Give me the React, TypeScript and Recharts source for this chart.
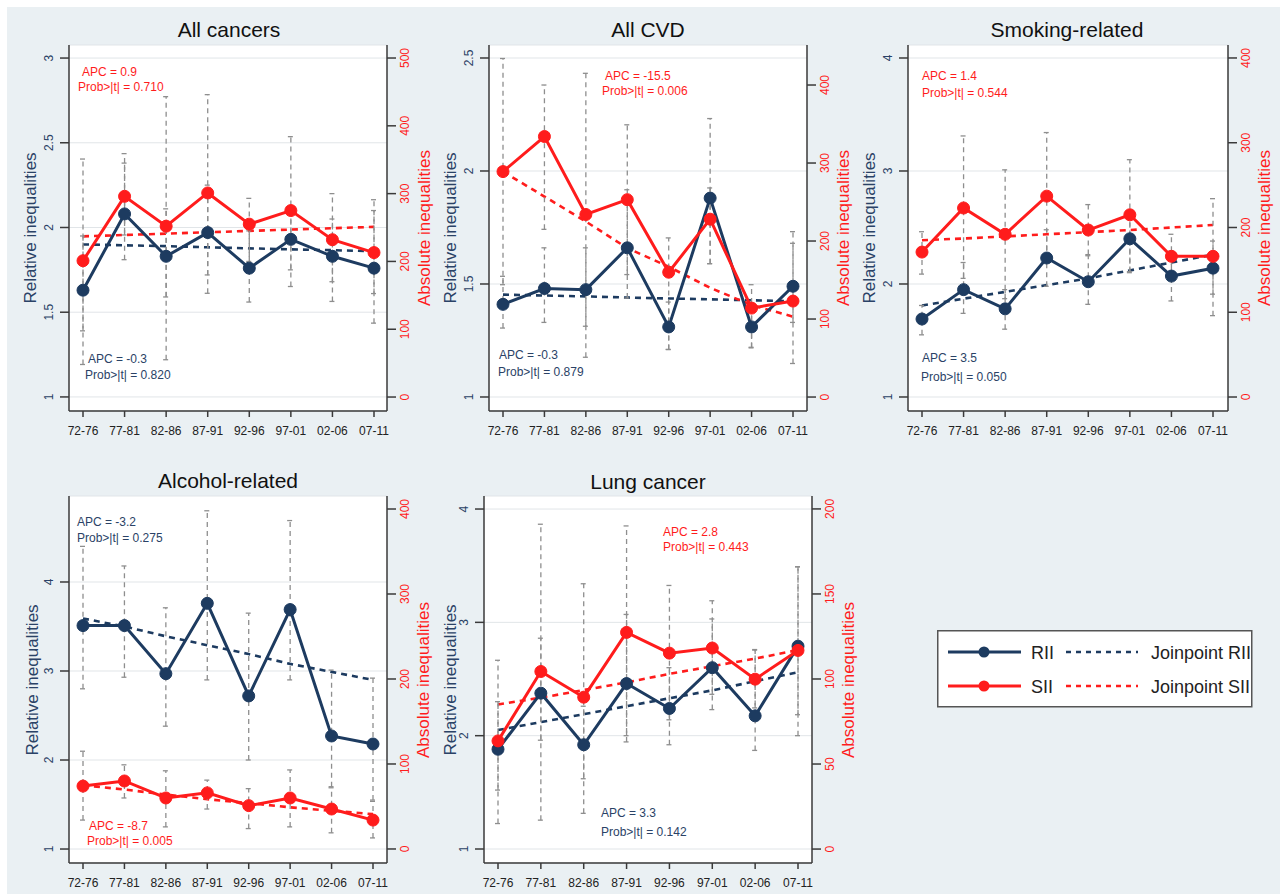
import React from 'react';
import { LineChart, Line, XAxis, YAxis, CartesianGrid, ErrorBar } from 'recharts';

const periods = ['72-76', '77-81', '82-86', '87-91', '92-96', '97-01', '02-06', '07-11'];

// All cancers
const cancerRii = [1.63, 2.08, 1.83, 1.97, 1.76, 1.93, 1.83, 1.76];
const cancerSii = [201, 296, 252, 301, 255, 275, 232, 213];
const cancerRiiJp = [1.9, 1.895, 1.89, 1.883, 1.877, 1.871, 1.866, 1.86];
const cancerSiiJp = [237, 239, 241, 243, 245, 247, 249, 251];
const cancerRiiCi = [[1.39, 1.95], [1.81, 2.38], [1.59, 2.11], [1.72, 2.25], [1.56, 1.98], [1.75, 2.12], [1.68, 2.05], [1.61, 2.1]];
const cancerSiiCi = [[48, 351], [239, 359], [55, 443], [153, 446], [200, 293], [163, 384], [141, 300], [109, 291]];

// All CVD
const cvdRii = [1.41, 1.48, 1.475, 1.66, 1.31, 1.88, 1.31, 1.49];
const cvdSii = [289, 334, 234, 253, 160, 228, 114, 123];
const cvdRiiJp = [1.453, 1.449, 1.445, 1.44, 1.436, 1.432, 1.428, 1.424];
const cvdSiiJp = [289, 257, 225, 191, 167, 140, 118, 103];
const cvdRiiCi = [[1.305, 1.534], [1.33, 1.66], [1.313, 1.66], [1.438, 1.917], [1.21, 1.42], [1.59, 1.925], [1.22, 1.4], [1.33, 1.68]];
const cvdSiiCi = [[144, 434], [215, 400], [51, 415], [157, 349], [61, 204], [171, 357], [63, 144], [43, 212]];

// Smoking-related
const smokeRii = [1.69, 1.95, 1.78, 2.23, 2.02, 2.4, 2.07, 2.14];
const smokeSii = [171, 223, 192, 237, 197, 215, 166, 166];
const smokeRiiJp = [1.81, 1.87, 1.93, 1.99, 2.05, 2.12, 2.19, 2.26];
const smokeSiiJp = [185, 187, 189.5, 192, 194.5, 197, 200, 203];
const smokeRiiCi = [[1.55, 1.81], [1.74, 2.19], [1.6, 1.95], [1.98, 2.48], [1.82, 2.25], [2.1, 2.63], [1.85, 2.29], [1.91, 2.38]];
const smokeSiiCi = [[145, 195], [140, 308], [116, 268], [162, 312], [168, 227], [148, 280], [140, 192], [96, 234]];

// Alcohol-related
const alcRii = [3.51, 3.51, 2.97, 3.76, 2.72, 3.69, 2.27, 2.18];
const alcSii = [74, 80, 60, 66, 51, 60, 47, 34];
const alcRiiJp = [3.59, 3.5, 3.39, 3.29, 3.19, 3.08, 2.99, 2.9];
const alcSiiJp = [75, 70, 64, 58.5, 54, 49, 45, 41];
const alcRiiCi = [[2.8, 4.4], [2.93, 4.18], [2.38, 3.71], [2.9, 4.8], [2.0, 3.65], [2.9, 4.69], [1.7, 3.01], [1.55, 2.92]];
const alcSiiCi = [[34, 115], [60, 99], [26, 92], [47, 81], [24, 71], [26, 93], [19, 72], [13, 56]];

// Lung cancer
const lungRii = [1.88, 2.375, 1.92, 2.46, 2.24, 2.6, 2.175, 2.79];
const lungSii = [63.6, 104.4, 89.3, 127.4, 115.2, 118.2, 99.9, 116.8];
const lungRiiJp = [2.05, 2.12, 2.19, 2.26, 2.33, 2.4, 2.48, 2.56];
const lungSiiJp = [85, 89, 93.5, 98, 103, 107.5, 112, 117];
const lungRiiCi = [[1.52, 2.3], [1.96, 2.86], [1.62, 2.26], [2.0, 3.07], [1.92, 2.6], [2.23, 3.03], [1.87, 2.76], [2.0, 3.49]];
const lungSiiCi = [[15, 111], [17, 191], [21, 156], [63, 190], [76, 155], [91, 146], [83, 117], [79, 166]];

const NAVY = '#1d3b60';
const NAVY_TEXT = '#2a4266';
const RED = '#ff1c1c';
const CI_GREY = '#8e8e8e';
const AXIS = '#3a3a3a';
const FONT = '"Liberation Sans", Arial, Helvetica, sans-serif';

function buildRows(rii: number[], sii: number[], riiJp: number[], siiJp: number[], riiCi: number[][], siiCi: number[][]) {
  return periods.map((p, i) => ({
    period: p,
    rii: rii[i],
    sii: sii[i],
    riiJp: riiJp[i],
    siiJp: siiJp[i],
    riiErr: [rii[i] - riiCi[i][0], riiCi[i][1] - rii[i]],
    siiErr: [sii[i] - siiCi[i][0], siiCi[i][1] - sii[i]],
  }));
}

const panels = [
  {
    title: 'All cancers', titleAt: [229, 29],
    box: [0, 0, 430, 450], plot: [69, 45, 387, 411], pad: [14, 13],
    leftDomain: [0.917, 3.077], leftTicks: [1, 1.5, 2, 2.5, 3],
    rightDomain: [-20.6, 519.2], rightTicks: [0, 100, 200, 300, 400, 500],
    rows: buildRows(cancerRii, cancerSii, cancerRiiJp, cancerSiiJp, cancerRiiCi, cancerSiiCi),
    labels: [30, 424, 228],
    siiText: [[82, 72, 'APC = 0.9'], [78, 87, 'Prob>|t| = 0.710']],
    riiText: [[88, 359, 'APC = -0.3'], [85, 375, 'Prob>|t| = 0.820']],
  },
  {
    title: 'All CVD', titleAt: [648, 29],
    box: [420, 0, 430, 450], plot: [489, 45, 807, 411], pad: [14, 14],
    leftDomain: [0.938, 2.5575], leftTicks: [1, 1.5, 2, 2.5],
    rightDomain: [-17.9, 451.3], rightTicks: [0, 100, 200, 300, 400],
    rows: buildRows(cvdRii, cvdSii, cvdRiiJp, cvdSiiJp, cvdRiiCi, cvdSiiCi),
    labels: [450, 843, 228],
    siiText: [[605, 76, 'APC = -15.5'], [602, 91, 'Prob>|t| = 0.006']],
    riiText: [[499, 355, 'APC = -0.3'], [498, 372, 'Prob>|t| = 0.879']],
  },
  {
    title: 'Smoking-related', titleAt: [1067, 29],
    box: [850, 0, 430, 450], plot: [908, 45, 1228, 411], pad: [14, 15],
    leftDomain: [0.876, 4.115], leftTicks: [1, 2, 3, 4],
    rightDomain: [-16.5, 415.3], rightTicks: [0, 100, 200, 300, 400],
    rows: buildRows(smokeRii, smokeSii, smokeRiiJp, smokeSiiJp, smokeRiiCi, smokeSiiCi),
    labels: [869, 1264, 228],
    siiText: [[922, 76, 'APC = 1.4'], [922, 93, 'Prob>|t| = 0.544']],
    riiText: [[922, 358, 'APC = 3.5'], [921, 377, 'Prob>|t| = 0.050']],
  },
  {
    title: 'Alcohol-related', titleAt: [228, 480],
    box: [0, 450, 430, 444], plot: [69, 496, 387, 863], pad: [14, 14],
    leftDomain: [0.843, 4.966], leftTicks: [1, 2, 3, 4],
    rightDomain: [-16.5, 415.3], rightTicks: [0, 100, 200, 300, 400],
    rows: buildRows(alcRii, alcSii, alcRiiJp, alcSiiJp, alcRiiCi, alcSiiCi),
    labels: [32, 423, 680],
    siiText: [[89, 826, 'APC = -8.7'], [87, 841, 'Prob>|t| = 0.005']],
    riiText: [[77, 522, 'APC = -3.2'], [77, 538, 'Prob>|t| = 0.275']],
  },
  {
    title: 'Lung cancer', titleAt: [648, 481],
    box: [430, 450, 430, 444], plot: [484, 496, 812, 863], pad: [14, 14],
    leftDomain: [0.8765, 4.115], leftTicks: [1, 2, 3, 4],
    rightDomain: [-8.2, 207.6], rightTicks: [0, 50, 100, 150, 200],
    rows: buildRows(lungRii, lungSii, lungRiiJp, lungSiiJp, lungRiiCi, lungSiiCi),
    labels: [450, 848, 680],
    siiText: [[663, 532, 'APC = 2.8'], [663, 547, 'Prob>|t| = 0.443']],
    riiText: [[601, 813, 'APC = 3.3'], [601, 832, 'Prob>|t| = 0.142']],
  },
];

const rotatedTick = (color: string, shift: number) => (props: any) => {
  const { x, y, payload } = props;
  const bx = x + shift;
  return (
    <text x={bx} y={y} transform={`rotate(-90 ${bx} ${y})`} textAnchor="middle" fill={color} fontSize={12} fontFamily={FONT}>
      {payload.value}
    </text>
  );
};

const XTick = (props: any) => (
  <text x={props.x} y={props.y + 17.5} textAnchor="middle" fill="#222" fontSize={12} fontFamily={FONT}>
    {props.payload.value}
  </text>
);

const axisLine = { stroke: AXIS, strokeWidth: 1.5 };

function Panel({ p }: { p: any }) {
  const [bx, by, bw, bh] = p.box;
  const [pl, pt, pr, pb] = p.plot;
  return (
    <div style={{ position: 'absolute', left: bx, top: by, width: bw, height: bh }}>
      <LineChart width={bw} height={bh} data={p.rows} margin={{ top: pt - by, right: 0, bottom: 0, left: 0 }}>
        <CartesianGrid yAxisId="left" vertical={false} stroke="#e1e5e8" fill="#ffffff" />
        <XAxis
          dataKey="period"
          scale="point"
          padding={{ left: p.pad[0], right: p.pad[1] }}
          height={by + bh - pb}
          tickSize={6}
          tickMargin={0}
          interval={0}
          axisLine={axisLine}
          tickLine={axisLine}
          tick={XTick}
        />
        <YAxis
          yAxisId="left"
          orientation="left"
          type="number"
          width={pl - bx}
          domain={p.leftDomain}
          ticks={p.leftTicks}
          allowDataOverflow
          interval={0}
          tickSize={9}
          tickMargin={0}
          axisLine={axisLine}
          tickLine={axisLine}
          tick={rotatedTick(NAVY_TEXT, -6.7)}
        />
        <YAxis
          yAxisId="right"
          orientation="right"
          type="number"
          width={bx + bw - pr}
          domain={p.rightDomain}
          ticks={p.rightTicks}
          allowDataOverflow
          interval={0}
          tickSize={9}
          tickMargin={0}
          axisLine={axisLine}
          tickLine={axisLine}
          tick={rotatedTick(RED, 13.3)}
        />
        <Line yAxisId="left" dataKey="riiJp" stroke={NAVY} strokeWidth={2.6} strokeDasharray="6 5" dot={false} activeDot={false} isAnimationActive={false} />
        <Line yAxisId="right" dataKey="siiJp" stroke={RED} strokeWidth={2.6} strokeDasharray="6 5" dot={false} activeDot={false} isAnimationActive={false} />
        <Line yAxisId="left" dataKey="rii" stroke={NAVY} strokeWidth={3} dot={{ r: 6, fill: NAVY, stroke: NAVY, strokeWidth: 1 }} activeDot={false} isAnimationActive={false} />
        <Line yAxisId="right" dataKey="sii" stroke={RED} strokeWidth={3} dot={{ r: 6, fill: RED, stroke: RED, strokeWidth: 1 }} activeDot={false} isAnimationActive={false} />
        <Line yAxisId="left" dataKey="rii" stroke="none" dot={false} activeDot={false} isAnimationActive={false} legendType="none">
          <ErrorBar dataKey="riiErr" direction="y" width={3} stroke={CI_GREY} strokeWidth={1.3} strokeDasharray="5 4" isAnimationActive={false} />
        </Line>
        <Line yAxisId="right" dataKey="sii" stroke="none" dot={false} activeDot={false} isAnimationActive={false} legendType="none">
          <ErrorBar dataKey="siiErr" direction="y" width={3} stroke={CI_GREY} strokeWidth={1.3} strokeDasharray="5 4" isAnimationActive={false} />
        </Line>
      </LineChart>
    </div>
  );
}

const centered = (x: number, y: number, extra: any = {}) => ({
  position: 'absolute' as const,
  left: x,
  top: y,
  transform: 'translate(-50%, -50%)',
  whiteSpace: 'nowrap' as const,
  lineHeight: 1,
  fontFamily: FONT,
  ...extra,
});

const leftAt = (x: number, y: number, color: string) => ({
  position: 'absolute' as const,
  left: x,
  top: y,
  transform: 'translateY(-50%)',
  whiteSpace: 'nowrap' as const,
  lineHeight: 1,
  fontFamily: FONT,
  fontSize: 12,
  color,
});

function Legend() {
  return (
    <svg style={{ position: 'absolute', left: 937, top: 630 }} width={316} height={78}>
      <rect x={0.75} y={0.75} width={314} height={76} fill="#fff" stroke="#555" strokeWidth={1.5} />
      <line x1={11} y1={22} x2={84} y2={22} stroke={NAVY} strokeWidth={3} />
      <circle cx={47} cy={22} r={5.5} fill={NAVY} />
      <text x={94} y={28.5} fontSize={18} fontFamily={FONT} fill="#222">RII</text>
      <line x1={129} y1={22} x2={201} y2={22} stroke={NAVY} strokeWidth={2.6} strokeDasharray="5 5" />
      <text x={214} y={28.5} fontSize={18} fontFamily={FONT} fill="#222">Joinpoint RII</text>
      <line x1={11} y1={56} x2={84} y2={56} stroke={RED} strokeWidth={3} />
      <circle cx={47} cy={56} r={5.5} fill={RED} />
      <text x={94} y={62.5} fontSize={18} fontFamily={FONT} fill="#222">SII</text>
      <line x1={129} y1={56} x2={201} y2={56} stroke={RED} strokeWidth={2.6} strokeDasharray="5 5" />
      <text x={214} y={62.5} fontSize={18} fontFamily={FONT} fill="#222">Joinpoint SII</text>
    </svg>
  );
}

export default function App() {
  return (
    <div style={{ position: 'absolute', left: 0, top: 0, width: 1280, height: 894, background: '#fff', overflow: 'hidden' }}>
      <div style={{ position: 'absolute', left: 7, top: 7, width: 1273, height: 887, background: '#eaf0f3' }} />
      {panels.map((p) => (
        <Panel key={p.title} p={p} />
      ))}
      {panels.map((p) => (
        <React.Fragment key={p.title + '-text'}>
          <div style={centered(p.titleAt[0], p.titleAt[1], { fontSize: 21, color: '#111' })}>{p.title}</div>
          <div style={centered(p.labels[0], p.labels[2], { fontSize: 17, color: NAVY_TEXT, transform: 'translate(-50%, -50%) rotate(-90deg)' })}>
            Relative inequalities
          </div>
          <div style={centered(p.labels[1], p.labels[2], { fontSize: 17, color: RED, transform: 'translate(-50%, -50%) rotate(-90deg)' })}>
            Absolute inequalities
          </div>
          {p.siiText.map((t: any) => (
            <div key={t[2]} style={leftAt(t[0], t[1], RED)}>{t[2]}</div>
          ))}
          {p.riiText.map((t: any) => (
            <div key={t[2]} style={leftAt(t[0], t[1], NAVY_TEXT)}>{t[2]}</div>
          ))}
        </React.Fragment>
      ))}
      <Legend />
    </div>
  );
}
